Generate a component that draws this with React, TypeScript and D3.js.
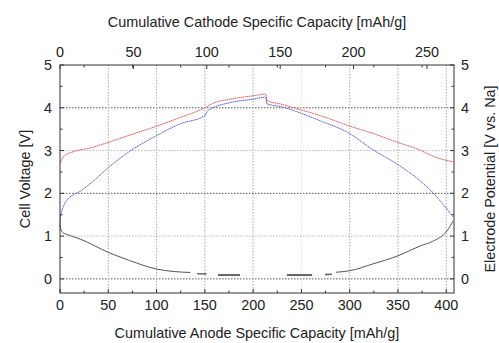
import React from "react";
import * as d3 from "d3";

const anodeTicks = [0, 50, 100, 150, 200, 250, 300, 350, 400];
const cathodeTicks = [0, 50, 100, 150, 200, 250];
const voltTicks = [0, 1, 2, 3, 4, 5];

// cathode potential (red), x in anode capacity units
const redCap = [0.5, 2, 6, 12, 31, 50, 72, 100, 124, 150, 158, 176, 200, 213, 214.5, 228, 245, 269, 299, 324, 350, 373, 386, 396.5, 407];
const redV = [2.72, 2.8, 2.9, 2.96, 3.06, 3.19, 3.36, 3.57, 3.77, 4.0, 4.1, 4.2, 4.28, 4.32, 4.17, 4.09, 3.98, 3.82, 3.58, 3.4, 3.19, 3.01, 2.87, 2.79, 2.74];

// cell voltage (blue)
const blueCap = [0, 0.5, 2, 4, 8, 15, 21, 31, 50, 72, 100, 124, 150, 153, 176, 200, 213, 214.5, 228, 245, 269, 299, 324, 350, 373, 386, 400.7, 407];
const blueV = [1.22, 1.45, 1.6, 1.72, 1.86, 1.98, 2.05, 2.22, 2.6, 2.98, 3.35, 3.62, 3.82, 3.93, 4.12, 4.2, 4.25, 4.09, 4.03, 3.91, 3.7, 3.41, 3.02, 2.67, 2.29, 2.02, 1.63, 1.45];

// anode potential (black), broken into recorded segments
const black1Cap = [0, 1, 3, 7, 21, 50, 72, 100, 119, 135];
const black1V = [1.25, 1.16, 1.08, 1.04, 0.93, 0.62, 0.43, 0.23, 0.17, 0.15];
const black2Cap = [142, 152];
const black2V = [0.12, 0.115];
const black3Cap = [163.6, 186.4];
const black3V = [0.09, 0.09];
const black4Cap = [235, 261];
const black4V = [0.09, 0.09];
const black5Cap = [274.4, 281.7];
const black5V = [0.1, 0.11];
const black6Cap = [285.8, 300, 324, 350, 373, 386, 400.7, 407];
const black6V = [0.155, 0.19, 0.35, 0.54, 0.77, 0.88, 1.12, 1.35];

const W = 499, H = 343;
const L = 60, R = 454, T = 65, B = 293;
const FONT = "'Liberation Sans', Arial, sans-serif";
const FS = 14.4;

export default function App() {
  const x = d3.scaleLinear().domain([0, 408]).range([L, R]);
  const xc = d3.scaleLinear().domain([0, 268.4]).range([L, R]);
  const y = d3.scaleLinear().domain([-0.33, 5]).range([B, T]);
  const line = d3
    .line<[number, number]>()
    .x((d) => x(d[0]))
    .y((d) => y(d[1]))
    .curve(d3.curveMonotoneX);
  const zip = (a: number[], b: number[]) => a.map((v, i) => [v, b[i]] as [number, number]);

  const minorAnode = d3.range(25, 408, 50);
  const minorVolt = d3.range(-0.0, 5, 0.5).filter((v) => v % 1 !== 0);

  return (
    <svg width={W} height={H} style={{ position: "absolute", left: 0, top: 0, background: "#fff" }} fontFamily={FONT}>
      <rect x={0} y={0} width={W} height={H} fill="#fff" />
      {/* horizontal grid */}
      {voltTicks.filter((v) => v < 5).map((v) => (
        <line key={"hg" + v} x1={L} x2={R} y1={y(v)} y2={y(v)}
          stroke={v % 2 === 0 ? "#555" : "#bbb"} strokeWidth={1} strokeDasharray="1.5,1.5" />
      ))}
      {/* vertical grid */}
      {anodeTicks.filter((v) => v > 0).map((v) => (
        <line key={"vg" + v} x1={x(v)} x2={x(v)} y1={T} y2={B}
          stroke={v === 250 ? "#ddd" : "#aaa"} strokeWidth={1} strokeDasharray="1.5,1.5" />
      ))}
      {/* curves */}
      <path d={line(zip(redCap, redV)) || ""} fill="none" stroke="#e8555a" strokeWidth={1} strokeDasharray="1.5,0.5" />
      <path d={line(zip(blueCap, blueV)) || ""} fill="none" stroke="#5a5ae0" strokeWidth={1} strokeDasharray="1.5,0.5" />
      <path d={line(zip(black1Cap, black1V)) || ""} fill="none" stroke="#555" strokeWidth={1} />
      <path d={line(zip(black2Cap, black2V)) || ""} fill="none" stroke="#666" strokeWidth={1.6} />
      <path d={line(zip(black3Cap, black3V)) || ""} fill="none" stroke="#666" strokeWidth={2} />
      <path d={line(zip(black4Cap, black4V)) || ""} fill="none" stroke="#666" strokeWidth={2} />
      <path d={line(zip(black5Cap, black5V)) || ""} fill="none" stroke="#666" strokeWidth={1.6} />
      <path d={line(zip(black6Cap, black6V)) || ""} fill="none" stroke="#555" strokeWidth={1} />
      {/* frame */}
      <rect x={L} y={T} width={R - L} height={B - T} fill="none" stroke="#333" strokeWidth={1} />
      {/* bottom ticks */}
      {anodeTicks.map((v) => (
        <g key={"bt" + v}>
          <line x1={x(v)} x2={x(v)} y1={B} y2={B - 4} stroke="#333" />
          <text x={x(v)} y={310} fontSize={FS} textAnchor="middle" fill="#222">{v}</text>
        </g>
      ))}
      {minorAnode.map((v) => (
        <g key={"bm" + v}>
          <line x1={x(v)} x2={x(v)} y1={B} y2={B - 2.5} stroke="#333" />
          <line x1={x(v)} x2={x(v)} y1={T} y2={T + 2.5} stroke="#333" />
        </g>
      ))}
      {/* top ticks */}
      {cathodeTicks.map((v) => (
        <g key={"tt" + v}>
          <line x1={xc(v)} x2={xc(v)} y1={T} y2={T + 4} stroke="#333" />
          <text x={xc(v)} y={57} fontSize={FS} textAnchor="middle" fill="#222">{v}</text>
        </g>
      ))}
      {/* left/right ticks */}
      {voltTicks.map((v) => (
        <g key={"lt" + v}>
          <line x1={L} x2={L + 4} y1={y(v)} y2={y(v)} stroke="#333" />
          <line x1={R} x2={R - 4} y1={y(v)} y2={y(v)} stroke="#333" />
          <text x={52} y={y(v) + 5} fontSize={FS} textAnchor="end" fill="#222">{v}</text>
          <text x={461} y={y(v) + 5} fontSize={FS} textAnchor="start" fill="#222">{v}</text>
        </g>
      ))}
      {minorVolt.map((v) => (
        <g key={"lm" + v}>
          <line x1={L} x2={L + 2.5} y1={y(v)} y2={y(v)} stroke="#333" />
          <line x1={R} x2={R - 2.5} y1={y(v)} y2={y(v)} stroke="#333" />
        </g>
      ))}
      {/* titles */}
      <text x={(L + R) / 2} y={27} fontSize={FS} textAnchor="middle" fill="#222">Cumulative Cathode Specific Capacity [mAh/g]</text>
      <text x={(L + R) / 2} y={338} fontSize={FS} textAnchor="middle" fill="#222">Cumulative Anode Specific Capacity [mAh/g]</text>
      <text transform={`translate(30,${(T + B) / 2}) rotate(-90)`} fontSize={FS} textAnchor="middle" fill="#222">Cell Voltage [V]</text>
      <text transform={`translate(495,${(T + B) / 2}) rotate(-90)`} fontSize={FS} textAnchor="middle" fill="#222">Electrode Potential [V vs. Na]</text>
    </svg>
  );
}
